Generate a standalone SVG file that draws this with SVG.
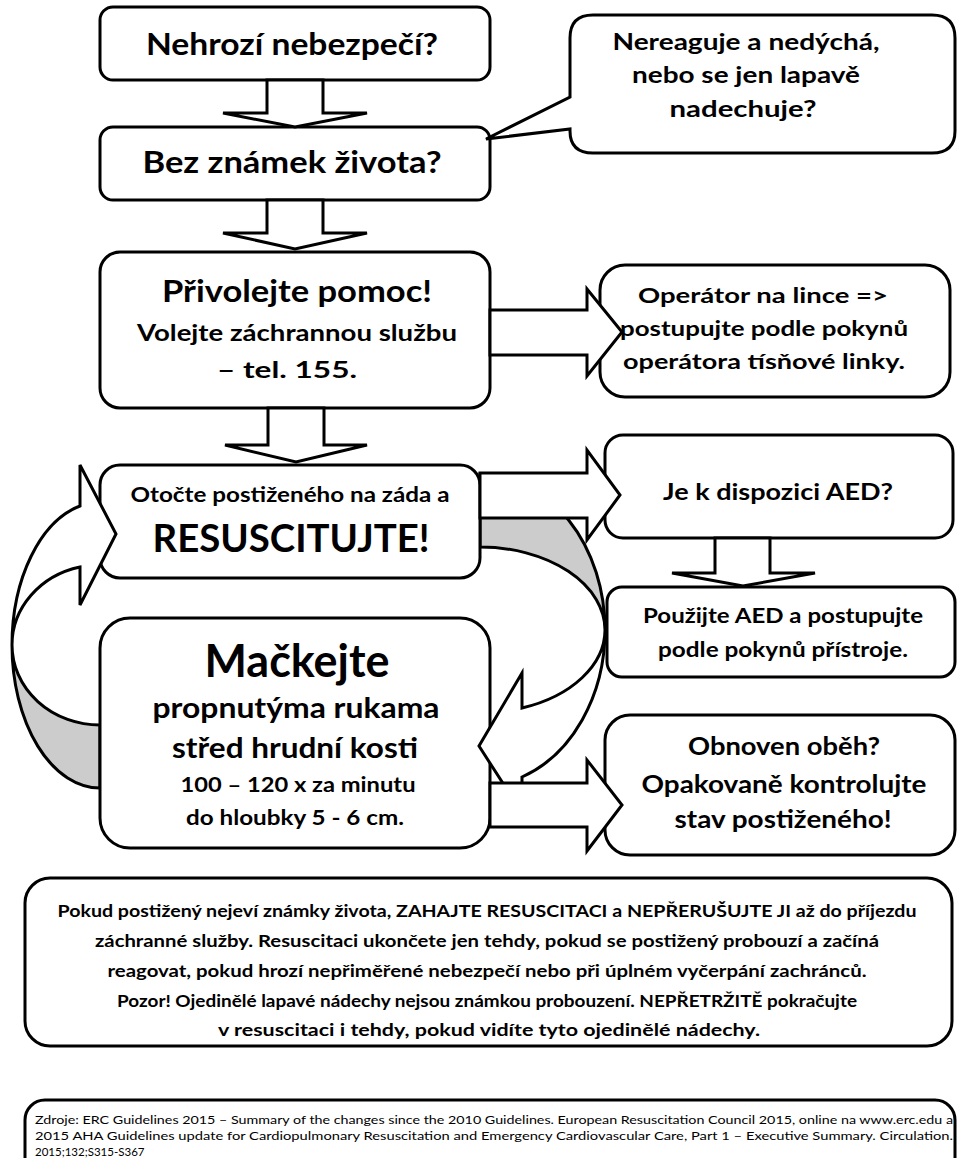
<svg xmlns="http://www.w3.org/2000/svg" width="957" height="1158" viewBox="0 0 957 1158">
<style>
.box{fill:#fff;stroke:#000;stroke-width:3}
.arr{fill:#fff;stroke:#000;stroke-width:3;stroke-linejoin:miter}
.back{fill:#cccccc;stroke:#000;stroke-width:3}
.t{font-family:Lato,"Open Sans","DejaVu Sans",sans-serif;font-weight:bold;text-anchor:middle;fill:#000}
.src{font-family:Lato,"Open Sans","DejaVu Sans",sans-serif;font-weight:normal;font-size:11.5px;fill:#000}
</style>
<rect width="957" height="1158" fill="#fff"/>

<g id="loop-backs">
<path class="back" d="M12,645 A88,143 0 0,0 100,788 L100,725 A88,80 0 0,1 12,645 Z"/>
<path class="back" d="M605,630 A125,156 0 0,0 480,474 L480,547 A125,83 0 0,1 605,630 Z"/>
</g>

<g id="n1"><rect class="box" x="100" y="7" width="390" height="73" rx="13"/>
<text class="t" x="292" y="55" font-size="31" textLength="292" lengthAdjust="spacingAndGlyphs">Nehrozí nebezpečí?</text></g>

<g id="n2"><rect class="box" x="100" y="127" width="390" height="73" rx="13"/>
<text class="t" x="292" y="173" font-size="31" textLength="299" lengthAdjust="spacingAndGlyphs">Bez známek života?</text></g>

<g id="callout"><path class="box" d="M593,15 H932 Q955,15 955,38 V131 Q955,153 932,153 H593 Q570,153 570,131 V129 L486,139 L570,97 V38 Q570,15 593,15 Z"/>
<text class="t" x="746" y="50" font-size="22" textLength="267" lengthAdjust="spacingAndGlyphs">Nereaguje a nedýchá,</text>
<text class="t" x="746" y="83" font-size="22" textLength="228" lengthAdjust="spacingAndGlyphs">nebo se jen lapavě</text>
<text class="t" x="743" y="117" font-size="22" textLength="147" lengthAdjust="spacingAndGlyphs">nadechuje?</text></g>

<g id="n3"><rect class="box" x="100" y="252" width="390" height="156" rx="20"/>
<text class="t" x="297" y="302" font-size="30" textLength="270" lengthAdjust="spacingAndGlyphs">Přivolejte pomoc!</text>
<text class="t" x="297" y="341" font-size="22" textLength="320" lengthAdjust="spacingAndGlyphs">Volejte záchrannou službu</text>
<text class="t" x="287" y="378" font-size="22" textLength="140" lengthAdjust="spacingAndGlyphs">– tel. 155.</text></g>

<g id="n4"><rect class="box" x="600" y="265" width="350" height="132" rx="25"/>
<text class="t" x="763" y="303" font-size="20" textLength="250" lengthAdjust="spacingAndGlyphs">Operátor na lince =&gt;</text>
<text class="t" x="764" y="336" font-size="20" textLength="288" lengthAdjust="spacingAndGlyphs">postupujte podle pokynů</text>
<text class="t" x="764" y="369" font-size="20" textLength="282" lengthAdjust="spacingAndGlyphs">operátora tísňové linky.</text></g>

<g id="n5"><rect class="box" x="100" y="465" width="380" height="113" rx="20"/>
<text class="t" x="290" y="502" font-size="20" textLength="319" lengthAdjust="spacingAndGlyphs">Otočte postiženého na záda a</text>
<text class="t" x="291" y="552" font-size="38" textLength="277" lengthAdjust="spacingAndGlyphs">RESUSCITUJTE!</text></g>

<g id="n6"><rect class="box" x="100" y="618" width="390" height="230" rx="30"/>
<text class="t" x="297" y="677" font-size="46" textLength="185" lengthAdjust="spacingAndGlyphs">Mačkejte</text>
<text class="t" x="296" y="718" font-size="28" textLength="287" lengthAdjust="spacingAndGlyphs">propnutýma rukama</text>
<text class="t" x="295" y="758" font-size="28" textLength="246" lengthAdjust="spacingAndGlyphs">střed hrudní kosti</text>
<text class="t" x="298" y="792" font-size="20" textLength="235" lengthAdjust="spacingAndGlyphs">100 – 120 x za minutu</text>
<text class="t" x="295" y="825" font-size="20" textLength="218" lengthAdjust="spacingAndGlyphs">do hloubky 5 - 6 cm.</text></g>

<g id="n7"><rect class="box" x="605" y="435" width="348" height="103" rx="18"/>
<text class="t" x="778" y="500" font-size="23" textLength="230" lengthAdjust="spacingAndGlyphs">Je k dispozici AED?</text></g>

<g id="n8"><rect class="box" x="607" y="587" width="348" height="90" rx="15"/>
<text class="t" x="783" y="623" font-size="21" textLength="280" lengthAdjust="spacingAndGlyphs">Použijte AED a postupujte</text>
<text class="t" x="783" y="657" font-size="21" textLength="250" lengthAdjust="spacingAndGlyphs">podle pokynů přístroje.</text></g>

<g id="n9"><rect class="box" x="605" y="715" width="350" height="140" rx="25"/>
<text class="t" x="784" y="755" font-size="25" textLength="192" lengthAdjust="spacingAndGlyphs">Obnoven oběh?</text>
<text class="t" x="784" y="793" font-size="25" textLength="285" lengthAdjust="spacingAndGlyphs">Opakovaně kontrolujte</text>
<text class="t" x="783" y="828" font-size="25" textLength="217" lengthAdjust="spacingAndGlyphs">stav postiženého!</text></g>

<g id="n10"><rect class="box" x="25" y="878" width="927" height="168" rx="25"/>
<text class="t" x="487" y="917" font-size="17.5" textLength="859" lengthAdjust="spacingAndGlyphs">Pokud postižený nejeví známky života, ZAHAJTE RESUSCITACI a NEPŘERUŠUJTE JI až do příjezdu</text>
<text class="t" x="487" y="947" font-size="17.5" textLength="784" lengthAdjust="spacingAndGlyphs">záchranné služby. Resuscitaci ukončete jen tehdy, pokud se postižený probouzí a začíná</text>
<text class="t" x="487" y="977" font-size="17.5" textLength="759" lengthAdjust="spacingAndGlyphs">reagovat, pokud hrozí nepřiměřené nebezpečí nebo při úplném vyčerpání zachránců.</text>
<text class="t" x="487" y="1007" font-size="17.5" textLength="740" lengthAdjust="spacingAndGlyphs">Pozor! Ojedinělé lapavé nádechy nejsou známkou probouzení. NEPŘETRŽITĚ pokračujte</text>
<text class="t" x="489" y="1036" font-size="17.5" textLength="542" lengthAdjust="spacingAndGlyphs">v resuscitaci i tehdy, pokud vidíte tyto ojedinělé nádechy.</text></g>

<g id="n11"><rect class="box" x="25" y="1100" width="930" height="100" rx="20"/>
<text class="src" x="35" y="1124" textLength="918" lengthAdjust="spacingAndGlyphs">Zdroje: ERC Guidelines 2015 – Summary of the changes since the 2010 Guidelines. European Resuscitation Council 2015, online na www.erc.edu a</text>
<text class="src" x="35" y="1140" textLength="918" lengthAdjust="spacingAndGlyphs">2015 AHA Guidelines update for Cardiopulmonary Resuscitation and Emergency Cardiovascular Care, Part 1 – Executive Summary. Circulation.</text>
<text class="src" x="35" y="1156">2015;132;S315-S367</text></g>

<g id="connectors">
<path class="arr" d="M12,645 A88,143 0 0,1 80,506 L80,465 L116,534 L80,605 L80,567 A88,80 0 0,0 12,645 Z"/>
<path class="arr" d="M605,630 A125,156 0 0,1 522,777 L522,813 L479,746 L522,673 L522,708 A125,83 0 0,0 605,630 Z"/>
<polygon class="arr" points="267,80 267,113 223,113 295,127 367,113 323,113 323,80"/>
<polygon class="arr" points="267,200 267,233 223,233 295,249 367,233 323,233 323,200"/>
<polygon class="arr" points="268,408 268,445 225,445 296,462 367,445 324,445 324,408"/>
<polygon class="arr" points="715,538 715,573 672,573 743,586 815,573 770,573 770,538"/>
<polygon class="arr" points="490,310 587,310 587,289 622,332 587,376 587,355 490,355"/>
<polygon class="arr" points="480,473 587,473 587,450 620,495 587,540 587,518 480,518"/>
<polygon class="arr" points="490,783 587,783 587,760 622,805 587,851 587,827 490,827"/>
</g>
</svg>
